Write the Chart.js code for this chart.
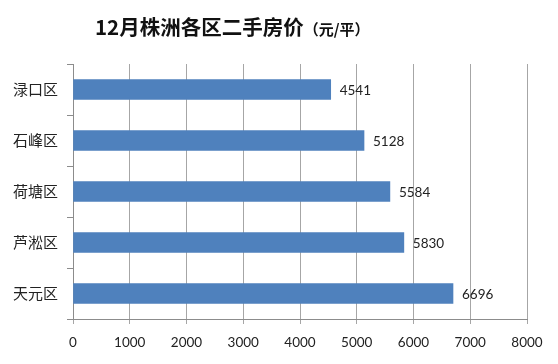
<!DOCTYPE html>
<html>
<head>
<meta charset="utf-8">
<script src="https://cdn.jsdelivr.net/npm/chart.js@4/dist/chart.umd.min.js"></script>
<style>
  html, body { margin: 0; padding: 0; background: #fff; }
  #wrap { width: 558px; height: 364px; }
</style>
</head>
<body>
<div id="wrap"><canvas id="priceChart"></canvas></div>
<script>
const districts = ['渌口区', '石峰区', '荷塘区', '芦淞区', '天元区'];
const prices = [4541, 5128, 5584, 5830, 6696];
const xTicks = [0, 1000, 2000, 3000, 4000, 5000, 6000, 7000, 8000];
const titleMain = '12月株洲各区二手房价';
const titleUnit = '（元/平）';

const cjk = '"Noto Sans CJK SC", "Noto Sans", sans-serif';
const numFont = 'Lato, "Noto Sans CJK SC", sans-serif';

// title drawn by hand: two sizes on one line
const titlePlugin = {
    id: 'titlePlugin',
    afterDraw(chart) {
        const ctx = chart.ctx;
        ctx.save();
        ctx.fillStyle = '#111';
        ctx.textBaseline = 'alphabetic';
        ctx.font = 'bold 20.5px ' + cjk;
        ctx.fillText(titleMain, 95, 35);
        const w = ctx.measureText(titleMain).width;
        ctx.font = 'bold 15px ' + cjk;
        ctx.fillText(titleUnit, 95 + w, 35);
        ctx.restore();
    }
};

// value labels to the right of each bar
const valueLabels = {
    id: 'valueLabels',
    afterDatasetsDraw(chart) {
        const ctx = chart.ctx;
        const meta = chart.getDatasetMeta(0);
        ctx.save();
        ctx.font = '13.5px ' + numFont;
        ctx.fillStyle = '#222';
        ctx.textAlign = 'left';
        ctx.textBaseline = 'middle';
        meta.data.forEach((bar, i) => {
            ctx.fillText(prices[i], bar.x + 9, bar.y + 1);
        });
        ctx.restore();
    }
};

new Chart(document.getElementById('priceChart'), {
    type: 'bar',
    data: {
        labels: districts,
        datasets: [{
            data: prices,
            backgroundColor: '#4F81BD',
            borderWidth: 0,
            barThickness: 20
        }]
    },
    options: {
        indexAxis: 'y',
        responsive: true,
        maintainAspectRatio: false,
        animation: false,
        layout: { padding: { top: 64, right: 31, left: 0, bottom: 0 } },
        plugins: {
            legend: { display: false },
            tooltip: { enabled: false }
        },
        scales: {
            x: {
                min: 0,
                max: 8000,
                afterBuildTicks(scale) {
                    scale.ticks = xTicks.map(v => ({ value: v }));
                },
                afterFit(scale) { scale.height = 45; },
                grid: { color: '#a6a6a6', tickLength: 5, lineWidth: 1 },
                border: { color: '#8c8c8c' },
                ticks: {
                    padding: 11,
                    color: '#222',
                    font: { size: 13.5, family: numFont },
                    callback: v => String(v)
                }
            },
            y: {
                afterFit(scale) { scale.width = 73; },
                grid: { offset: true, drawOnChartArea: false, tickLength: 6, color: '#8c8c8c' },
                border: { color: '#8c8c8c' },
                ticks: {
                    padding: 9,
                    color: '#222',
                    font: { size: 15, family: cjk }
                }
            }
        }
    },
    plugins: [titlePlugin, valueLabels]
});
</script>
</body>
</html>
